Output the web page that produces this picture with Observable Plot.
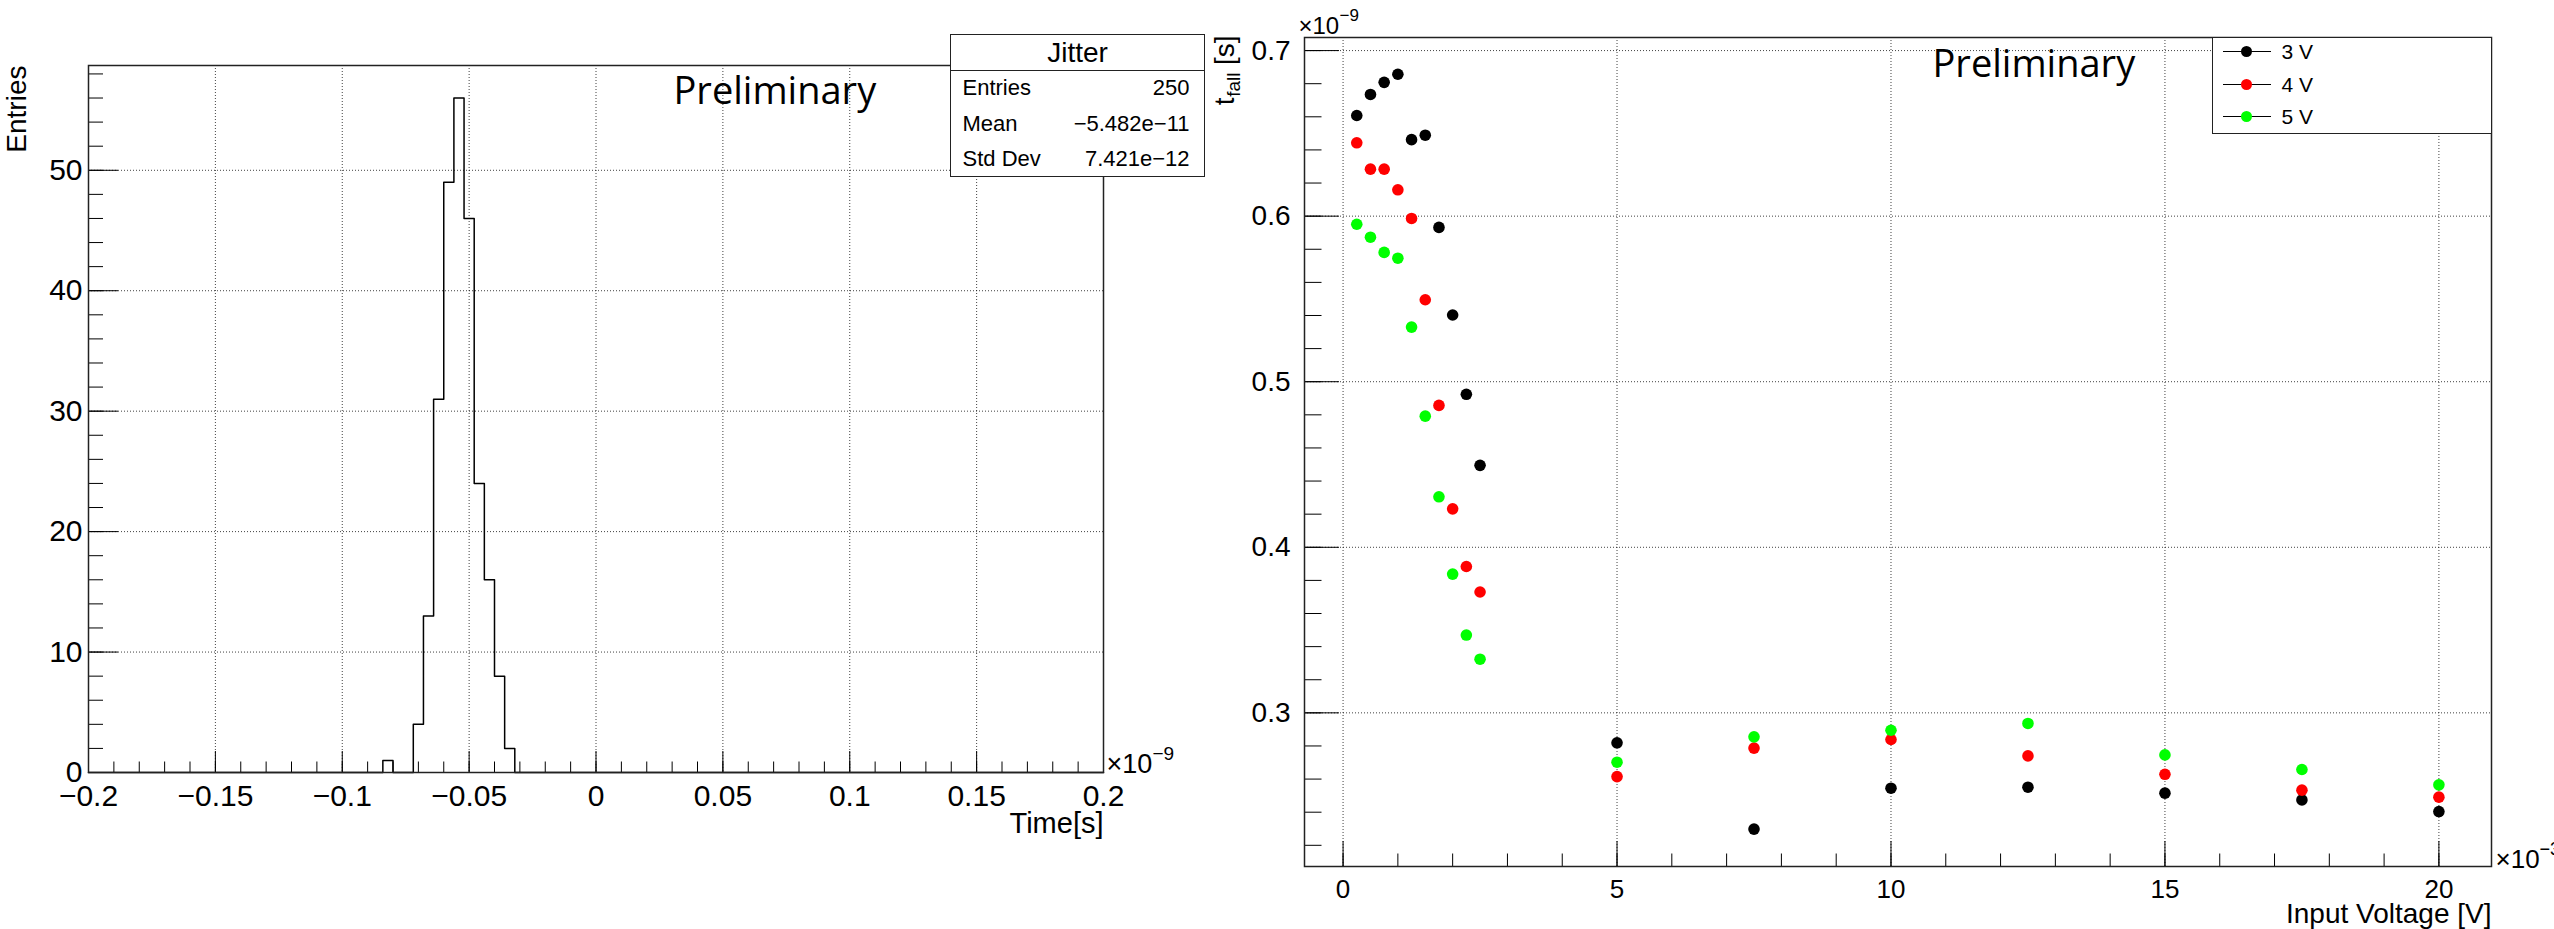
<!DOCTYPE html>
<html>
<head>
<meta charset="utf-8">
<script src="https://cdn.jsdelivr.net/npm/d3@7"></script>
<script src="https://cdn.jsdelivr.net/npm/@observablehq/plot@0.6"></script>
<style>
html,body{margin:0;padding:0;background:#fff;}
#wrap{position:relative;width:2554px;height:929px;overflow:hidden;background:#fff;font-family:"Liberation Sans",Arial,sans-serif;color:#000;}
#left,#right{position:absolute;top:0;}
#left{left:0;}
#right{left:1180px;}
.box{position:absolute;border:1.5px solid #222;background:#fff;box-sizing:border-box;}
.t{position:absolute;white-space:nowrap;line-height:1;}
</style>
</head>
<body>
<div id="wrap">
  <div id="left"></div>
  <div id="right"></div>
</div>
<script>
// ---------- Left panel: Jitter histogram (time in units of 1e-9 s) ----------
const timeTicksMajor = [-0.2, -0.15, -0.1, -0.05, 0, 0.05, 0.1, 0.15, 0.2];
const entriesTicksMajor = [0, 10, 20, 30, 40, 50];
const binLowEdges = [-0.084, -0.080, -0.076, -0.072, -0.068, -0.064, -0.060, -0.056, -0.052, -0.048, -0.044, -0.040, -0.036];
const binCounts   = [1, 0, 0, 4, 13, 31, 49, 56, 46, 24, 16, 8, 2];
const binWidth = 0.004;
const statsTitle = "Jitter";
const statsLabels = ["Entries", "Mean", "Std Dev"];
const statsValues = ["250", "\u22125.482e\u221211", "7.421e\u221212"];

// ---------- Right panel: t_fall vs input voltage (x in 1e-3 V, y in 1e-9 s) ----------
const inputVoltage = [0.25, 0.5, 0.75, 1, 1.25, 1.5, 1.75, 2, 2.25, 2.5, 5, 7.5, 10, 12.5, 15, 17.5, 20];
const tfall3V = [0.6608, 0.6735, 0.6808, 0.6857, 0.6462, 0.6489, 0.5932, 0.5403, 0.4924, 0.4495, 0.2819, 0.2298, 0.2545, 0.2551, 0.2515, 0.2474, 0.2404];
const tfall4V = [0.6443, 0.6284, 0.6284, 0.6159, 0.5986, 0.5495, 0.4857, 0.4232, 0.3884, 0.3730, 0.2615, 0.2787, 0.2839, 0.2740, 0.2629, 0.2533, 0.2491];
const tfall5V = [0.5951, 0.5873, 0.5781, 0.5746, 0.5330, 0.4792, 0.4305, 0.3838, 0.3470, 0.3324, 0.2702, 0.2855, 0.2895, 0.2936, 0.2746, 0.2658, 0.2565];
const seriesNames = ["3 V", "4 V", "5 V"];
const seriesColors = ["#000000", "#ff0000", "#00ff00"];
const voltTicksMajor = [0, 5, 10, 15, 20];
const tfallTicksMajor = [0.3, 0.4, 0.5, 0.6, 0.7];

const fmt = d => String(d).replace("-", "\u2212");
const gridStyle = {stroke: "#000", strokeOpacity: 0.75, strokeWidth: 1, strokeDasharray: "1,2"};
const FONT = "Liberation Sans, Arial, sans-serif";
const PRELIM_FONT = "Open Sans, Noto Sans, sans-serif";

// histogram outline as step line
const histLine = [{x: -0.2, y: 0}]
  .concat(binLowEdges.map((e, i) => ({x: e, y: binCounts[i]})))
  .concat([{x: binLowEdges[binLowEdges.length - 1] + binWidth, y: 0}, {x: 0.2, y: 0}]);

const timeMinor = d3.range(-20, 21).map(i => i / 100);
const entriesMinor = d3.range(0, 30).map(i => i * 2);

const left = Plot.plot({
  width: 1180, height: 929,
  marginLeft: 88, marginRight: 77, marginTop: 65, marginBottom: 157,
  style: {fontFamily: FONT, background: "white", overflow: "visible"},
  x: {domain: [-0.2, 0.2], label: null},
  y: {domain: [0, 58.7], label: null},
  marks: [
    Plot.gridX(timeTicksMajor, gridStyle),
    Plot.gridY(entriesTicksMajor, gridStyle),
    Plot.axisX(timeMinor, {tickSize: -10.5, fill: "none", stroke: "#000", label: null}),
    Plot.axisX(timeTicksMajor, {tickSize: -21, fill: "none", stroke: "#000", label: null}),
    Plot.axisX(timeTicksMajor, {tickSize: 0, tickPadding: 12, fontSize: 30, tickFormat: fmt, label: null}),
    Plot.axisY(entriesMinor, {tickSize: -15, fill: "none", stroke: "#000", label: null}),
    Plot.axisY(entriesTicksMajor, {tickSize: -30, fill: "none", stroke: "#000", label: null}),
    Plot.axisY(entriesTicksMajor, {tickSize: 0, tickPadding: 6, fontSize: 30, tickFormat: fmt, label: null}),
    Plot.line(histLine, {x: "x", y: "y", curve: "step-after", stroke: "#000", strokeWidth: 1.5}),
    Plot.frame({stroke: "#222", strokeWidth: 1.5}),
    Plot.text(["Preliminary"], {text: d => d, frameAnchor: "top-left", dx: 585, dy: 38, textAnchor: "start", lineAnchor: "bottom", fontSize: 38, fontFamily: PRELIM_FONT, fill: "#000"}),
    Plot.text(["Entries"], {text: d => d, frameAnchor: "top-left", dx: -63, dy: 0, rotate: -90, textAnchor: "end", lineAnchor: "bottom", fontSize: 28}),
    Plot.text(["Time[s]"], {text: d => d, frameAnchor: "bottom-right", dx: 0, dy: 60, textAnchor: "end", lineAnchor: "bottom", fontSize: 29}),
    Plot.text(["\u00d710"], {text: d => d, frameAnchor: "bottom-right", dx: 3, dy: 0, textAnchor: "start", lineAnchor: "bottom", fontSize: 27}),
    Plot.text(["\u22129"], {text: d => d, frameAnchor: "bottom-right", dx: 49, dy: -13, textAnchor: "start", lineAnchor: "bottom", fontSize: 19})
  ]
});
document.getElementById("left").appendChild(left);

// right panel
const tfallSeries = [tfall3V, tfall4V, tfall5V];
const points = seriesNames.flatMap((name, s) => inputVoltage.map((v, i) => ({v, t: tfallSeries[s][i], s: name})));
const voltMinor = d3.range(0, 21);
const tfallMinor = d3.range(11, 36).map(i => i / 50);

const right = Plot.plot({
  width: 1374, height: 929,
  marginLeft: 124, marginRight: 63, marginTop: 37, marginBottom: 63,
  style: {fontFamily: FONT, background: "white", overflow: "visible"},
  x: {domain: [-0.704, 20.96], label: null},
  y: {domain: [0.2072, 0.7079], label: null},
  color: {domain: seriesNames, range: seriesColors},
  marks: [
    Plot.gridX(voltTicksMajor, gridStyle),
    Plot.gridY(tfallTicksMajor, gridStyle),
    Plot.axisX(voltMinor, {tickSize: -12.5, fill: "none", stroke: "#000", label: null}),
    Plot.axisX(voltTicksMajor, {tickSize: -25, fill: "none", stroke: "#000", label: null}),
    Plot.axisX(voltTicksMajor, {tickSize: 0, tickPadding: 13, fontSize: 26, tickFormat: fmt, label: null}),
    Plot.axisY(tfallMinor, {tickSize: -17.5, fill: "none", stroke: "#000", label: null}),
    Plot.axisY(tfallTicksMajor, {tickSize: -35, fill: "none", stroke: "#000", label: null}),
    Plot.axisY(tfallTicksMajor, {tickSize: 0, tickPadding: 14, fontSize: 28, tickFormat: fmt, label: null}),
    Plot.dot(points, {x: "v", y: "t", fill: "s", r: 5.8}),
    Plot.frame({stroke: "#222", strokeWidth: 1.5}),
    Plot.text(["Preliminary"], {text: d => d, frameAnchor: "top-left", dx: 628, dy: 39, textAnchor: "start", lineAnchor: "bottom", fontSize: 38, fontFamily: PRELIM_FONT, fill: "#000"}),
    Plot.text(["Input Voltage [V]"], {text: d => d, frameAnchor: "bottom-right", dx: 0, dy: 56, textAnchor: "end", lineAnchor: "bottom", fontSize: 28}),
    Plot.text(["\u00d710"], {text: d => d, frameAnchor: "top-left", dx: -6, dy: -4, textAnchor: "start", lineAnchor: "bottom", fontSize: 24}),
    Plot.text(["\u22129"], {text: d => d, frameAnchor: "top-left", dx: 35, dy: -17, textAnchor: "start", lineAnchor: "bottom", fontSize: 17}),
    Plot.text(["\u00d710"], {text: d => d, frameAnchor: "bottom-right", dx: 4, dy: 1, textAnchor: "start", lineAnchor: "bottom", fontSize: 26}),
    Plot.text(["\u22123"], {text: d => d, frameAnchor: "bottom-right", dx: 48, dy: -12, textAnchor: "start", lineAnchor: "bottom", fontSize: 18}),
    Plot.text(["[s]"], {text: d => d, frameAnchor: "top-left", dx: -71, dy: -2, rotate: -90, textAnchor: "end", lineAnchor: "bottom", fontSize: 28}),
    Plot.text(["fall"], {text: d => d, frameAnchor: "top-left", dx: -65, dy: 35, rotate: -90, textAnchor: "end", lineAnchor: "bottom", fontSize: 19}),
    Plot.text(["t"], {text: d => d, frameAnchor: "top-left", dx: -71, dy: 60, rotate: -90, textAnchor: "end", lineAnchor: "bottom", fontSize: 28})
  ]
});
document.getElementById("right").appendChild(right);

// ---------- stats box ----------
const wrap = document.getElementById("wrap");
const stats = document.createElement("div");
stats.className = "box";
Object.assign(stats.style, {left: "950px", top: "34px", width: "255px", height: "143px"});
stats.innerHTML =
  `<div style="position:absolute;left:0;right:0;top:34.5px;border-top:1.5px solid #222"></div>` +
  `<div class="t" style="left:0;right:0;text-align:center;top:4px;font-size:28px">${statsTitle}</div>` +
  statsLabels.map((lab, i) =>
    `<div class="t" style="left:11.5px;top:${42 + i * 35.5}px;font-size:22px">${lab}</div>` +
    `<div class="t" style="right:14.5px;top:${42 + i * 35.5}px;font-size:22px;text-align:right">${statsValues[i]}</div>`
  ).join("");
wrap.appendChild(stats);

// ---------- legend ----------
const legend = document.createElement("div");
legend.className = "box";
Object.assign(legend.style, {left: "2212px", top: "37px", width: "280px", height: "97px"});
legend.innerHTML = seriesNames.map((name, i) => {
  const cy = 13.5 + i * 32.5;
  return `<div style="position:absolute;left:9.5px;width:48px;top:${cy - 0.5}px;height:1.2px;background:#000"></div>` +
    `<div style="position:absolute;left:${33.5 - 5.5}px;top:${cy - 5.5}px;width:11px;height:11px;border-radius:50%;background:${seriesColors[i]}"></div>` +
    `<div class="t" style="left:68.5px;top:${cy - 10.2}px;font-size:21px">${name}</div>`;
}).join("");
wrap.appendChild(legend);
</script>
</body>
</html>
